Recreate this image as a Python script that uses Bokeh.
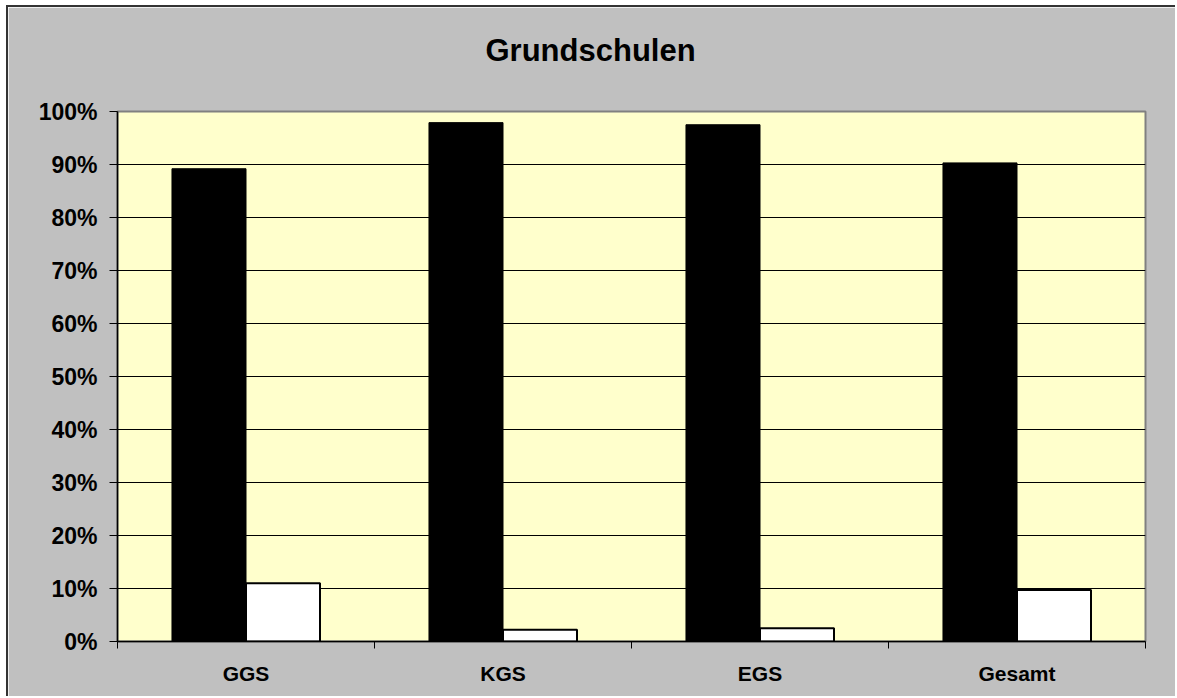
from bokeh.plotting import figure
from bokeh.models import (ColumnDataSource, FixedTicker, NumeralTickFormatter, Range1d, Title)
from bokeh.transform import dodge
from bokeh.embed import file_html
from bokeh.resources import INLINE

# ---- data ----
categories = ["GGS", "KGS", "EGS", "Gesamt"]
series_black = [0.892, 0.979, 0.975, 0.903]
series_white = [0.110, 0.022, 0.025, 0.097]
y_ticks = [0.0, 0.1, 0.2, 0.3, 0.4, 0.5, 0.6, 0.7, 0.8, 0.9, 1.0]
title_text = "Grundschulen"

FONT = "Liberation Sans"

pos = [i + 0.5 for i in range(len(categories))]
src = ColumnDataSource(dict(x=pos, black=series_black, white=series_white, cat=categories))

p = figure(width=1169, height=691, output_backend="svg", toolbar_location=None,
           x_range=Range1d(0, len(categories)), y_range=Range1d(0, 1),
           min_border_left=109, min_border_right=32, min_border_top=104,
           min_border_bottom=57)
p.margin = (5, 0, 0, 6)
p.background_fill_color = "#FFFFCC"
p.border_fill_color = "#C0C0C0"
p.outline_line_color = "#808080"
p.outline_line_width = 2
p.styles = {"border-top": "2px solid #333333", "border-left": "2px solid #333333"}

# spacer between frame and title, then the title itself
p.add_layout(Title(text=" ", text_font_size="10px", standoff=26), "above")
p.add_layout(Title(text=title_text, align="left", offset=368, standoff=10,
                   text_font=FONT, text_font_style="bold", text_font_size="31px",
                   text_color="black"), "above")

bw = 0.288
p.vbar(x=dodge("x", -bw / 2, range=p.x_range), top="black", bottom=0, width=bw, source=src,
       fill_color="black", line_color="black", line_width=1)
p.vbar(x=dodge("x", bw / 2, range=p.x_range), top="white", bottom=0, width=bw, source=src,
       fill_color="white", line_color="black", line_width=2)

# grid
p.xgrid.grid_line_color = None
p.ygrid.ticker = FixedTicker(ticks=y_ticks)
p.ygrid.grid_line_color = "black"
p.ygrid.grid_line_width = 1

# y axis
p.yaxis.ticker = FixedTicker(ticks=y_ticks)
p.yaxis.formatter = NumeralTickFormatter(format="0%")
p.yaxis.axis_line_color = "black"
p.yaxis.axis_line_width = 1.5
p.yaxis.major_tick_out = 8
p.yaxis.major_tick_in = 0
p.yaxis.major_tick_line_color = "black"
p.yaxis.minor_tick_line_color = None
p.yaxis.major_label_standoff = 12
p.yaxis.major_label_text_font = FONT
p.yaxis.major_label_text_font_style = "bold"
p.yaxis.major_label_text_font_size = "23px"
p.yaxis.major_label_text_color = "black"

# x axis: labels at category centres, ticks at boundaries
p.xaxis.ticker = FixedTicker(ticks=pos, minor_ticks=list(range(len(categories) + 1)))
p.xaxis.major_label_overrides = {x: c for x, c in zip(pos, categories)}
p.xaxis.axis_line_color = "black"
p.xaxis.axis_line_width = 1.5
p.xaxis.major_tick_out = 0
p.xaxis.major_tick_in = 0
p.xaxis.minor_tick_out = 7
p.xaxis.minor_tick_in = 0
p.xaxis.minor_tick_line_color = "black"
p.xaxis.major_label_standoff = 13
p.xaxis.major_label_text_font = FONT
p.xaxis.major_label_text_font_style = "bold"
p.xaxis.major_label_text_font_size = "21px"
p.xaxis.major_label_text_color = "black"

open("out.html", "w").write(file_html(p, INLINE))
